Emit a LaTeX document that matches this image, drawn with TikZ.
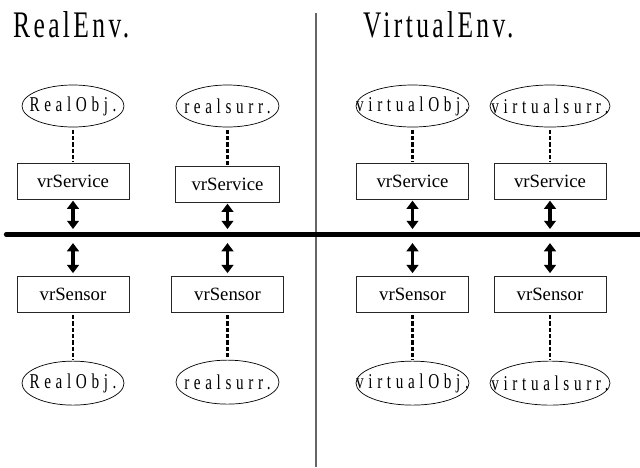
\documentclass[tikz,border=0pt]{standalone}
\usepackage{fontspec}
\setmainfont{Liberation Serif}
\newfontfamily\spacedfont[FakeStretch=0.72,LetterSpace=22]{Liberation Serif}
\newfontfamily\envfont[FakeStretch=0.68,LetterSpace=9]{Liberation Serif}
\usetikzlibrary{arrows.meta, shapes.geometric, positioning}

\newcommand{\objtext}[1]{\makebox[0pt]{\raisebox{-5.5pt}{\spacedfont #1}}}

\begin{document}
\begin{tikzpicture}[
    x=0.03cm, y=-0.03cm,
    node distance=1.08cm,
    obj/.style={ellipse, draw, line width=0.6pt, inner sep=0pt, minimum height=1.26cm, font=\fontsize{18}{20}\selectfont},
    svc/.style={rectangle, draw=black!85, line width=0.6pt, minimum width=3.36cm, minimum height=1.08cm, inner sep=0pt, font=\fontsize{16}{18}\selectfont},
    link/.style={dashed, dash pattern=on 3.6pt off 1.8pt, line width=1.8pt, shorten <=2pt, shorten >=1pt},
    bidir/.style={{Triangle[length=7pt,width=10pt]}-{Triangle[length=7pt,width=10pt]}, line width=3pt},
    env/.style={anchor=base west, inner sep=0pt, font=\envfont\fontsize{32}{36}\selectfont}
]
\useasboundingbox (0,0) rectangle (640,467);

\node[env] (realenv) at (13,37) {RealEnv.};
\node[env] (virtenv) at (363,37) {VirtualEnv.};

\coordinate (busL) at (6,234.5);
\coordinate (busR) at (640,234.5);
\coordinate (divT) at (316,13);
\coordinate (divB) at (316,467);

% objects above the bus
\node[obj, minimum width=3.06cm] (realobjA) at (73,106) {\objtext{RealObj.}};
\node[obj, minimum width=3.09cm] (realsurrA) at (227.5,106) {\objtext{realsurr.}};
\node[obj, minimum width=3.39cm] (virtobjA) at (412.5,106) {\objtext{virtualObj.}};
\node[obj, minimum width=3.6cm] (virtsurrA) at (550,106) {\objtext{virtualsurr.}};

\node[svc, below=of realobjA] (svcA) {vrService};
\node[svc, minimum width=3.12cm, below=1.17cm of realsurrA] (svcB) {vrService};
\node[svc, below=of virtobjA] (svcC) {vrService};
\node[svc, below=of virtsurrA] (svcD) {vrService};

% sensors below the bus
\node[svc, below=2.28cm of svcA] (senA) {vrSensor};
\node[svc, below=2.19cm of svcB] (senB) {vrSensor};
\node[svc, below=2.28cm of svcC] (senC) {vrSensor};
\node[svc, below=2.28cm of svcD] (senD) {vrSensor};

\node[obj, minimum width=3.06cm, minimum height=1.32cm, below=1.44cm of senA] (realobjB) {\objtext{RealObj.}};
\node[obj, minimum width=3.09cm, minimum height=1.32cm, below=1.41cm of senB] (realsurrB) {\objtext{realsurr.}};
\node[obj, minimum width=3.39cm, minimum height=1.32cm, below=1.44cm of senC] (virtobjB) {\objtext{virtualObj.}};
\node[obj, minimum width=3.6cm, minimum height=1.32cm, below=1.44cm of senD] (virtsurrB) {\objtext{virtualsurr.}};

\draw[black!60, line width=1.2pt] (divT) -- (divB);
\draw[line width=3.6pt, line cap=round] (busL) -- (busR);

\foreach \o/\s in {realobjA/svcA, realsurrA/svcB, virtobjA/svcC, virtsurrA/svcD,
                   senA/realobjB, senB/realsurrB, senC/virtobjB, senD/virtsurrB}
  \draw[link] (\o) -- (\s);

\foreach \s in {svcA, svcB, svcC, svcD}
  \draw[bidir, shorten <=0.5pt, shorten >=4.7pt] (\s.south) -- (\s.south |- busL);
\foreach \s in {senA, senB, senC, senD}
  \draw[bidir, shorten <=7.3pt, shorten >=2.5pt] (\s.north |- busL) -- (\s.north);

\end{tikzpicture}
\end{document}
